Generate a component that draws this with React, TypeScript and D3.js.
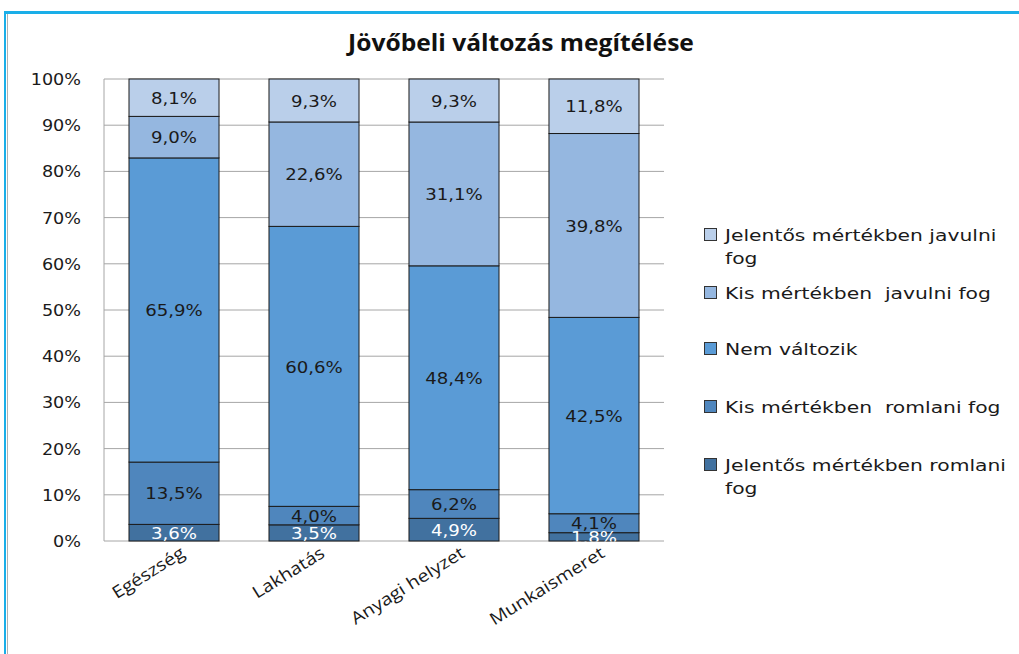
import React from "react";
import * as d3 from "d3";

const categories = ["Egészség", "Lakhatás", "Anyagi helyzet", "Munkaismeret"];
// series, bottom to top
const seriesNames = [
  "Jelentős mértékben romlani fog",
  "Kis mértékben romlani fog",
  "Nem változik",
  "Kis mértékben javulni fog",
  "Jelentős mértékben javulni fog",
];
const jelentosRomlani = [3.6, 3.5, 4.9, 1.8];
const kisRomlani = [13.5, 4.0, 6.2, 4.1];
const nemValtozik = [65.9, 60.6, 48.4, 42.5];
const kisJavulni = [9.0, 22.6, 31.1, 39.8];
const jelentosJavulni = [8.1, 9.3, 9.3, 11.8];
const yTicks = [0, 10, 20, 30, 40, 50, 60, 70, 80, 90, 100];

const seriesValues = [jelentosRomlani, kisRomlani, nemValtozik, kisJavulni, jelentosJavulni];
const colors = ["#41719f", "#4f86bd", "#5a9bd6", "#95b7e0", "#bacfea"];
const labelColors = ["#ffffff", "#1a1a1a", "#1a1a1a", "#1a1a1a", "#1a1a1a"];
// legend text lines, top to bottom
const legendLines = [
  ["Jelentős mértékben javulni", "fog"],
  ["Kis mértékben  javulni fog"],
  ["Nem változik"],
  ["Kis mértékben  romlani fog"],
  ["Jelentős mértékben romlani", "fog"],
];

// text that is stretched sideways like the (widened) original picture
function Wide({ x, y, sx, anchor, children, ...rest }: any) {
  return (
    <g transform={`translate(${x},${y}) scale(${sx},1)`}>
      <text x={0} y={0} textAnchor={anchor || "start"} style={{ whiteSpace: "pre" }} {...rest}>
        {children}
      </text>
    </g>
  );
}

export default function App() {
  const width = 1019;
  const height = 654;
  const left = 104, right = 664, top = 79, bottom = 541;

  const x = d3.scaleBand().domain(categories).range([left, right]).paddingInner(0.357).paddingOuter(0.1786);
  const y = d3.scaleLinear().domain([0, 100]).range([bottom, top]);

  const rows = categories.map((c, i) => {
    const r: any = { cat: c };
    const total = d3.sum(seriesValues, (s) => s[i]);
    seriesValues.forEach((s, k) => (r[k] = (s[i] / total) * 100));
    return r;
  });
  const stacked = d3.stack().keys(seriesValues.map((_, k) => String(k)))(rows as any);

  const fmt = (v: number) => v.toFixed(1).replace(".", ",") + "%";
  const legendY = [241, 299, 355, 413, 471];

  return (
    <svg width={width} height={height} style={{ position: "absolute", left: 0, top: 0 }}>
      <defs>
        <clipPath id="plotClip">
          <rect x={left} y={top - 20} width={right - left} height={bottom - top + 20.5} />
        </clipPath>
      </defs>
      <rect width={width} height={height} fill="#fff" />
      {/* frame */}
      <line x1={4} x2={width} y1={12.5} y2={12.5} stroke="#1aaee8" strokeWidth={3} />
      <line x1={5} x2={5} y1={12} y2={height} stroke="#1aaee8" strokeWidth={2} />
      <line x1={7.5} x2={7.5} y1={14} y2={height} stroke="#b0b0b0" strokeWidth={1} />

      <Wide x={521} y={51} sx={1.07} anchor="middle" fontFamily="Open Sans" fontWeight="bold" fontSize={23} fill="#111">
        Jövőbeli változás megítélése
      </Wide>

      {/* grid and axis */}
      {yTicks.map((t) => (
        <g key={t}>
          <line x1={left} x2={right} y1={y(t)} y2={y(t)} stroke="#a6a6a6" />
          <Wide x={81} y={y(t) + 6} sx={1.1} anchor="end" fontFamily="DejaVu Sans" fontSize={16} fill="#1a1a1a">
            {t}%
          </Wide>
        </g>
      ))}
      <line x1={left} x2={left} y1={top} y2={bottom} stroke="#a6a6a6" />

      {stacked.map((s, k) =>
        s.map((d: any, i) => {
          const bx = x(categories[i])!;
          const y0 = y(d[0]);
          const y1 = y(d[1]);
          return (
            <rect
              key={k + "-" + i}
              x={bx}
              y={y1}
              width={x.bandwidth()}
              height={y0 - y1}
              fill={colors[k]}
              stroke="#1a1a1a"
              strokeWidth={1}
            />
          );
        })
      )}
      <g clipPath="url(#plotClip)">
        {stacked.map((s, k) =>
          s.map((d: any, i) => {
            const bx = x(categories[i])!;
            const y0 = y(d[0]);
            const y1 = y(d[1]);
            return (
              <Wide
                key={k + "-" + i}
                x={bx + x.bandwidth() / 2}
                y={(y0 + y1) / 2 + 6.2}
                sx={1.1}
                anchor="middle"
                fontFamily="DejaVu Sans"
                fontSize={16.5}
                fill={labelColors[k]}
              >
                {fmt(seriesValues[k][i])}
              </Wide>
            );
          })
        )}
      </g>

      {categories.map((c) => (
        <g key={c} transform={`translate(${x(c)! + x.bandwidth() / 2 + 12},${556}) rotate(-32) scale(1.15,1)`}>
          <text textAnchor="end" fontFamily="Open Sans" fontSize={17} fill="#1a1a1a">
            {c}
          </text>
        </g>
      ))}

      {/* legend */}
      {legendLines.map((lines, j) => {
        const k = seriesNames.length - 1 - j;
        return (
          <g key={j}>
            <rect x={704.5} y={legendY[j] - 12.5} width={12} height={12} fill={colors[k]} stroke="#333" strokeWidth={1} />
            {lines.map((ln, li) => (
              <Wide
                key={li}
                x={725}
                y={legendY[j] + li * 23}
                sx={1.27}
                fontFamily="DejaVu Sans"
                fontSize={16}
                fill="#1a1a1a"
              >
                {ln}
              </Wide>
            ))}
          </g>
        );
      })}
    </svg>
  );
}
